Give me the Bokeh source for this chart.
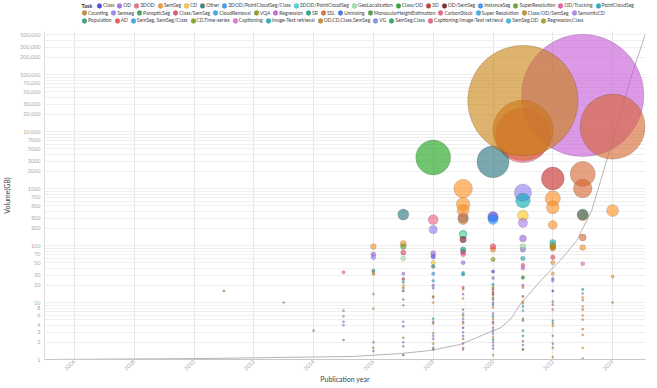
import math
from bokeh.plotting import figure
from bokeh.layouts import column
from bokeh.models import ColumnDataSource, FixedTicker, Legend, LegendItem, Range1d, Label
from bokeh.core.properties import value
from bokeh.embed import file_html
from bokeh.resources import INLINE

FONT = "Lato"

task_names = [
    "Class", "OD", "3DOD", "SemSeg", "CD", "Other", "3DOD/PointCloudSeg/Class", "3DOD/PointCloudSeg",
    "GeoLocalization", "Class/OD", "3D", "OD/SemSeg", "InstanceSeg", "SuperResolution", "OD/Tracking",
    "PointCloudSeg",
    "Counting", "Semseg", "PanopticSeg", "Class/SemSeg", "CloudRemoval", "VQA", "Regression", "SR", "SSL",
    "Unmixing", "MonocularHeightEstimation", "CarbonStock", "Super Resolution", "Class/OD/SemSeg", "SemanticCD",
    "Population", "AD", "SemSeg, SemSeg/Class", "CD,Time-series", "Captioning", "Image-Text retrieval",
    "OD,CD,Class,SemSeg", "VG", "SemSeg,Class", "Captioning/Image-Text retrieval", "SemSeg,OD", "Regression,Class",
]
task_colors = [
    "#3d30d8", "#9b5de5", "#f25c7f", "#ff8c1a", "#ffc61a", "#1f6f7a", "#1e90ff", "#22d3e6",
    "#8ee8a0", "#139e13", "#c41f1f", "#6b0b0b", "#1a8cff", "#5b9c19", "#e844a4", "#08a7b8",
    "#c47b12", "#8b7cf2", "#1c9b4c", "#e8395c", "#1da0ea", "#8c8c00", "#c456d6", "#00a08c", "#d5642c",
    "#1c6ff2", "#2b9b2f", "#ee4a82", "#1eaaea", "#b8880c", "#a67af2",
    "#0a9c70", "#f04545", "#1ca2f2", "#6a9c0c", "#e462cc", "#00aab6", "#c8800e", "#7282f2", "#12a252",
    "#f24a78", "#1cb4f2", "#a49200",
]
legend_row1 = task_names[:16]
legend_row2 = task_names[16:31]
legend_row3 = task_names[31:]

vol_2011 = [16]
task_2011 = ["Counting"]
vol_2013 = [10]
task_2013 = ["Class/OD/SemSeg"]
vol_2014 = [3.2]
task_2014 = ["OD"]
vol_2015 = [34, 7.2, 5.7, 4.6, 4.0, 2.2]
task_2015 = ["3DOD", "OD", "Semseg", "OD", "VG", "Population"]
vol_2016 = [96, 70, 62, 36, 32, 14, 7.8, 2.0, 1.6, 1.4]
task_2016 = ["SemSeg", "OD", "Semseg", "Other", "Counting", "SemSeg", "SemSeg", "OD", "Class/OD/SemSeg", "VG"]
vol_2017 = [350, 108, 96, 75, 59, 32, 26, 23, 20, 18, 16, 11.3, 8.9, 4.6, 3.8, 2.4, 2.0, 1.7, 1.2]
task_2017 = ["Other", "SemSeg", "SuperResolution", "Class/SemSeg", "GeoLocalization", "OD", "3D",
             "PointCloudSeg", "CD", "Counting", "Other", "OD", "Semseg", "VG", "OD", "Counting", "Semseg",
             "OD", "Class"]
vol_2018 = [3500, 285, 190, 73, 64, 50, 43, 32, 24, 20, 18, 12.8, 12.3, 10, 5.2, 4.6, 4.3, 2.9, 2.6, 2.3,
            1.9, 1.6, 1.5]
task_2018 = ["Class/OD", "3DOD", "Semseg", "OD", "Class", "CD", "Other", "InstanceSeg", "CloudRemoval", "OD",
             "Semseg", "SemSeg", "Counting", "SemSeg", "Image-Text retrieval", "OD", "Counting", "SemSeg", "VG",
             "OD", "SemSeg", "Class/OD/SemSeg", "OD"]
vol_2019 = [1000, 530, 410, 310, 285, 160, 155, 127, 85, 78, 70, 50, 33, 31, 18.4, 17, 14, 11.8, 7.5, 6.4,
            5.9, 5.2, 4.6, 4.3, 3.6, 3.0, 2.6, 2.3, 1.9, 1.6, 1.5]
task_2019 = ["SemSeg", "SemSeg", "SemSeg", "OD", "Counting", "3DOD/PointCloudSeg", "GeoLocalization",
             "OD/SemSeg", "SR", "Class/SemSeg", "OD/Tracking", "OD", "PointCloudSeg", "Image-Text retrieval",
             "Class/SemSeg", "SemSeg", "Regression", "SemSeg", "OD", "Semseg", "Counting", "VG", "OD",
             "SemSeg", "Class", "VG", "OD", "Counting", "OD", "SemSeg", "OD"]
vol_2020 = [2960, 320, 285, 96, 85, 57, 35, 27, 20.7, 18.3, 16.9, 15, 13.8, 12.2, 11.3, 10, 9.2, 8.2, 6.4,
            5.7, 5.2, 4.6, 4.3, 3.6, 3.2, 2.86, 2.5, 2.24, 2.0, 1.76, 1.56, 1.2]
task_2020 = ["Other", "Class", "InstanceSeg", "Class/SemSeg", "SemSeg", "VQA", "Class", "OD", "SR",
             "Class/OD/SemSeg", "Class/SemSeg", "3D", "OD/SemSeg", "Counting", "MonocularHeightEstimation",
             "OD", "Unmixing", "SemSeg", "OD", "Super Resolution", "SemSeg", "Counting", "OD", "CarbonStock",
             "Semseg", "OD", "SemSeg", "PanopticSeg", "OD", "Semseg", "OD", "SemSeg"]
vol_2021 = [35000, 10500, 8600, 850, 614, 335, 250, 133, 96, 85, 59, 45, 40, 28, 27, 20, 18.4, 12.8, 10.4,
            9.6, 8.5, 7.2, 5.2, 4.8, 3.2, 2.6, 2.1, 1.8, 1.5]
task_2021 = ["OD,CD,Class,SemSeg", "SSL", "3DOD", "Semseg", "Image-Text retrieval", "CD", "SemanticCD", "OD",
             "GeoLocalization", "OD", "PointCloudSeg", "Class/SemSeg", "Regression", "CD,Time-series",
             "SemSeg,Class", "OD", "SemSeg", "3D", "SemSeg", "Regression,Class", "Image-Text retrieval",
             "SemSeg,OD", "Counting", "OD", "SemSeg,Class", "SR", "AD", "VG", "OD/SemSeg"]
vol_2022 = [1500, 670, 465, 230, 113, 100, 95, 90, 62, 50, 32, 26, 24, 16, 10.4, 9.2, 7.5, 4.8, 4.3, 3.9,
            2.6, 1.9, 1.6, 1.1]
task_2022 = ["3D", "SemSeg", "SemSeg", "SemSeg", "Image-Text retrieval", "Regression,Class", "SemSeg",
             "Counting", "Class/SemSeg", "SemSeg", "SemSeg", "OD", "Semseg", "Class", "SemSeg, SemSeg/Class",
             "Captioning/Image-Text retrieval", "Captioning", "3DOD/PointCloudSeg/Class", "Counting", "SemSeg",
             "SemSeg,OD", "OD", "Class/OD/SemSeg", "SemSeg"]
vol_2023 = [43000, 1800, 1000, 350, 340, 138, 92, 48, 17, 14.4, 12.3, 11, 8.5, 7.5, 5.9, 5, 3.4, 2.7, 1.6, 1.04]
task_2023 = ["Regression", "SSL", "SSL", "Other", "SemSeg", "SSL", "SemSeg", "Captioning", "Population",
             "Semseg", "SemSeg", "Counting", "SemSeg", "Class/OD/SemSeg", "SemSeg", "OD,CD,Class,SemSeg",
             "Counting", "SemSeg", "SemSeg", "Counting"]
vol_2024 = [12200, 410, 28.5, 10]
task_2024 = ["SSL", "SemSeg", "SemSeg", "Counting"]

year_data = [
    (2011, vol_2011, task_2011), (2013, vol_2013, task_2013), (2014, vol_2014, task_2014),
    (2015, vol_2015, task_2015), (2016, vol_2016, task_2016), (2017, vol_2017, task_2017),
    (2018, vol_2018, task_2018), (2019, vol_2019, task_2019), (2020, vol_2020, task_2020),
    (2021, vol_2021, task_2021), (2022, vol_2022, task_2022), (2023, vol_2023, task_2023),
    (2024, vol_2024, task_2024),
]

# trend curve
trend_year = [2005.0, 2010.3, 2015.3, 2016.9, 2017.9, 2018.9, 2019.7, 2020.27, 2020.6, 2020.93, 2021.6,
              2022.3, 2022.8, 2023.3, 2023.7, 2024.2, 2024.6, 2025.1]
trend_volume = [1.0, 1.04, 1.13, 1.27, 1.44, 1.83, 2.74, 3.64, 5.2, 9.6, 24.3, 59, 122, 410, 2060, 15600,
                85000, 520000]

x_ticks = [2006, 2008, 2010, 2012, 2014, 2016, 2018, 2020, 2022, 2024]
y_label_ticks = [1, 2, 3, 4, 6, 8, 10, 20, 30, 50, 70, 100, 200, 300, 500, 700, 1000, 2000, 3000, 5000, 7000,
                 10000, 20000, 30000, 50000, 70000, 100000, 200000, 300000, 500000]

# ---- build source ----
xs, vs, ts = [], [], []
for yr, vols, tks in year_data:
    for v, t in zip(vols, tks):
        xs.append(yr)
        vs.append(v)
        ts.append(t)
order = sorted(range(len(xs)), key=lambda i: task_names.index(ts[i]))
xs = [xs[i] for i in order]
vs = [vs[i] for i in order]
ts = [ts[i] for i in order]
cmap = dict(zip(task_names, task_colors))
diam = [2 * max(0.295 * math.sqrt(v), 1.1) for v in vs]
src = ColumnDataSource(dict(x=xs, y=vs, task=ts, d=diam, color=[cmap[t] for t in ts]))
first_idx = {}
for i, t in enumerate(ts):
    first_idx.setdefault(t, i)

BUB = dict(x="x", y="y", width="d", height="d", width_units="screen", height_units="screen",
           source=src, fill_color="color", line_color="#333333", line_alpha=0.35, line_width=0.5)

# ---------------- legend strip ----------------
LEG_H = 31
leg = figure(width=657, height=LEG_H, x_range=Range1d(0, 1), y_range=Range1d(0, 1),
             output_backend="svg", toolbar_location=None, title=None,
             x_axis_location=None, y_axis_location=None,
             min_border_left=0, min_border_right=0, min_border_top=0, min_border_bottom=0)
leg.outline_line_color = None
leg.grid.visible = False
leg_r = leg.ellipse(fill_alpha=0.85, **BUB)

def make_legend(names, loc):
    items = [LegendItem(label=value(n), renderers=[leg_r], index=first_idx[n]) for n in names]
    return Legend(items=items, orientation="horizontal", location=loc,
                  label_text_font=FONT, label_text_font_size="5px", label_text_color="#444444",
                  glyph_width=6, glyph_height=7, label_height=7, label_width=0, label_standoff=1,
                  spacing=2, padding=0, margin=0, border_line_color=None, background_fill_alpha=0)

leg.add_layout(make_legend(legend_row1, (52, LEG_H - 8.5)), "center")
leg.add_layout(make_legend(legend_row2, (37, LEG_H - 16)), "center")
leg.add_layout(make_legend(legend_row3, (37, LEG_H - 23.5)), "center")
leg.add_layout(Label(x=37, y=LEG_H - 5, x_units="screen", y_units="screen", text="Task",
                     text_font=FONT, text_font_size="5.5px", text_font_style="bold", text_color="#333333",
                     text_baseline="middle"))

# ---------------- main plot ----------------
p = figure(width=657, height=388 - LEG_H, x_range=Range1d(2005, 2025.1),
           y_range=Range1d(1, 570000), y_axis_type="log", output_backend="svg", toolbar_location=None,
           title=None, min_border_left=42, min_border_right=12, min_border_top=0, min_border_bottom=29)
p.outline_line_color = None
p.background_fill_color = "white"
p.border_fill_color = "white"

grid_ticks = [m * 10 ** k for k in range(6) for m in range(1, 10) if m * 10 ** k <= 570000]
def fmt(t):
    return f"{t:,}" if t >= 10000 else str(t)
overrides = {t: (fmt(t) if t in y_label_ticks else "") for t in grid_ticks}
p.yaxis.ticker = FixedTicker(ticks=grid_ticks)
p.yaxis.major_label_overrides = overrides
p.xaxis.ticker = FixedTicker(ticks=x_ticks)
p.xaxis.major_label_orientation = math.pi / 4
for ax in (p.xaxis, p.yaxis):
    ax.major_tick_line_color = None
    ax.minor_tick_line_color = None
    ax.major_tick_out = 0
    ax.major_tick_in = 0
    ax.minor_tick_out = 0
    ax.major_label_text_font = FONT
    ax.major_label_text_font_size = "5.5px"
    ax.major_label_text_color = "#aaaaaa"
    ax.axis_label_text_font = FONT
    ax.axis_label_text_font_size = "7px"
    ax.axis_label_text_font_style = "normal"
    ax.axis_label_text_color = "#444444"
p.xaxis.axis_line_color = "#c8c8c8"
p.yaxis.axis_line_color = "#dddddd"
p.yaxis.major_label_standoff = 4
p.xaxis.major_label_standoff = 1
p.yaxis.axis_label = "Volume(GB)"
p.xaxis.axis_label = "Publication year"
p.yaxis.axis_label_standoff = 6
p.xaxis.axis_label_standoff = 0
p.xgrid.ticker = FixedTicker(ticks=x_ticks)
p.xgrid.grid_line_color = "#e6e6e6"
p.ygrid.grid_line_color = "#efefef"

p.line(trend_year, trend_volume, line_color="#b5b5b5", line_width=1)
p.ellipse(fill_alpha=0.6, **BUB)

layout = column(leg, p, spacing=0)
open("out.html", "w").write(file_html(layout, INLINE))
